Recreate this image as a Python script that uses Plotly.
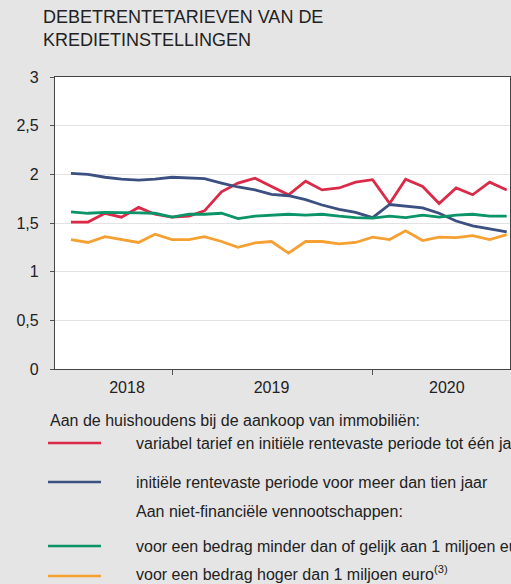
import pandas as pd
import plotly.graph_objects as go

# maandgegevens juli 2018 - september 2020
MONTHS = pd.date_range("2018-07-01", periods=27, freq="MS")

VARIABEL = [1.51, 1.51, 1.60, 1.56, 1.66, 1.59, 1.56, 1.57, 1.625, 1.82, 1.91, 1.96, 1.875, 1.79,
            1.93, 1.84, 1.86, 1.92, 1.945, 1.70, 1.95, 1.875, 1.70, 1.86, 1.79, 1.92, 1.84]
TIEN_JAAR = [2.01, 2.00, 1.97, 1.95, 1.94, 1.95, 1.97, 1.96, 1.955, 1.91, 1.87, 1.84, 1.795, 1.78,
             1.74, 1.685, 1.64, 1.61, 1.555, 1.69, 1.67, 1.655, 1.60, 1.52, 1.47, 1.44, 1.41]
KLEIN = [1.615, 1.60, 1.61, 1.61, 1.605, 1.60, 1.56, 1.59, 1.59, 1.60, 1.545, 1.57, 1.58, 1.59,
         1.58, 1.59, 1.57, 1.555, 1.55, 1.57, 1.555, 1.58, 1.56, 1.58, 1.59, 1.57, 1.57]
GROOT = [1.33, 1.30, 1.36, 1.33, 1.30, 1.385, 1.33, 1.33, 1.36, 1.31, 1.25, 1.295, 1.31, 1.19,
         1.31, 1.31, 1.285, 1.30, 1.355, 1.33, 1.42, 1.32, 1.355, 1.35, 1.37, 1.33, 1.38]

NAMES = [
    "variabel tarief en initiële rentevaste periode tot één jaar",
    "initiële rentevaste periode voor meer dan tien jaar",
    "voor een bedrag minder dan of gelijk aan 1 miljoen euro",
    "voor een bedrag hoger dan 1 miljoen euro<sup>(3)</sup>",
]
COLORS = ["#da2a47", "#3b4f81", "#0a9468", "#f5a031"]

YEARS = ["2018", "2019", "2020"]
YEAR_LABEL_AT = ["2018-10-11", "2019-07-01", "2020-05-15"]
YEAR_BREAKS = ["2019-01-01", "2020-01-01"]

TITLE = "DEBETRENTETARIEVEN VAN DE<br>KREDIETINSTELLINGEN"
HEAD_HH = "Aan de huishoudens bij de aankoop van immobiliën:"
HEAD_NFV = "Aan niet-financiële vennootschappen:"

FONT = "Liberation Sans, Arial, sans-serif"
TXT = "#222222"
BG = "#e5e5e5"

# plotgebied in pixels
W, H = 511, 584
ML, MR, MT, MB = 55, 1, 77, 215
PW = W - ML - MR
PH = H - MT - MB


def px_x(px):
    return (px - ML) / PW


def px_y(py):
    return (H - MB - py) / PH


fig = go.Figure()
for ys, name, color in zip([VARIABEL, TIEN_JAAR, KLEIN, GROOT], NAMES, COLORS):
    fig.add_trace(go.Scatter(x=MONTHS, y=ys, mode="lines", name=name,
                             line=dict(color=color, width=2.8)))

# titel als annotatie (linksboven)
fig.add_annotation(xref="paper", yref="paper", x=px_x(41), y=px_y(5),
                   xanchor="left", yanchor="top", align="left", text=TITLE,
                   showarrow=False, font=dict(size=18, color=TXT))

# legenda zelf opbouwen (lijnstukje + tekst)
line_y = [443, 482, 546, 576]
text_y = [443, 482, 546, 573]   # sup-tekst is hoger, dus iets omhoog
for name, color, ly, ty in zip(NAMES, COLORS, line_y, text_y):
    fig.add_shape(type="line", xref="paper", yref="paper",
                  x0=px_x(48), x1=px_x(101), y0=px_y(ly), y1=px_y(ly),
                  line=dict(color=color, width=2.5))
    fig.add_annotation(xref="paper", yref="paper", x=px_x(134), y=px_y(ty),
                       xanchor="left", yanchor="middle", text=name, showarrow=False,
                       font=dict(size=16, color=TXT))
for text, x, y in [(HEAD_HH, 48, 420), (HEAD_NFV, 134, 511)]:
    fig.add_annotation(xref="paper", yref="paper", x=px_x(x), y=px_y(y),
                       xanchor="left", yanchor="middle", text=text, showarrow=False,
                       font=dict(size=16, color=TXT))

fig.update_layout(
    width=W, height=H,
    margin=dict(l=ML, r=MR, t=MT, b=MB),
    paper_bgcolor=BG, plot_bgcolor="white",
    showlegend=False,
    separators=",.",
    font=dict(family=FONT, size=16, color=TXT),
    xaxis=dict(
        type="date", range=["2018-06-02", "2020-09-07"],
        tickvals=YEAR_LABEL_AT, ticktext=YEARS, ticks="", ticklabelstandoff=4,
        showgrid=False, zeroline=False,
        showline=True, linecolor="#444444", linewidth=1.3, mirror=True,
        minor=dict(tickvals=YEAR_BREAKS, ticks="outside", ticklen=5,
                   tickcolor="#555555", tickwidth=1.3, showgrid=False),
    ),
    xaxis2=dict(
        overlaying="x", matches="x", anchor="y", side="bottom",
        tickvals=YEAR_BREAKS, ticks="inside", ticklen=4, tickcolor="#555555",
        tickwidth=1.3, showticklabels=False, showgrid=False, showline=False,
        zeroline=False,
    ),
    yaxis=dict(
        range=[0, 3], dtick=0.5, ticks="outside", ticklen=4, tickcolor="#555555",
        ticklabelstandoff=8,
        showgrid=True, gridcolor="#e3e3e3", gridwidth=1.2, zeroline=False,
        showline=True, linecolor="#444444", linewidth=1.3, mirror=True,
    ),
)

# body-marge weg zodat de figuur precies in het venster past
fig.write_html("out.html", config={"displayModeBar": False},
               post_script="document.body.style.margin='0';"
               "document.body.style.overflow='hidden';")
